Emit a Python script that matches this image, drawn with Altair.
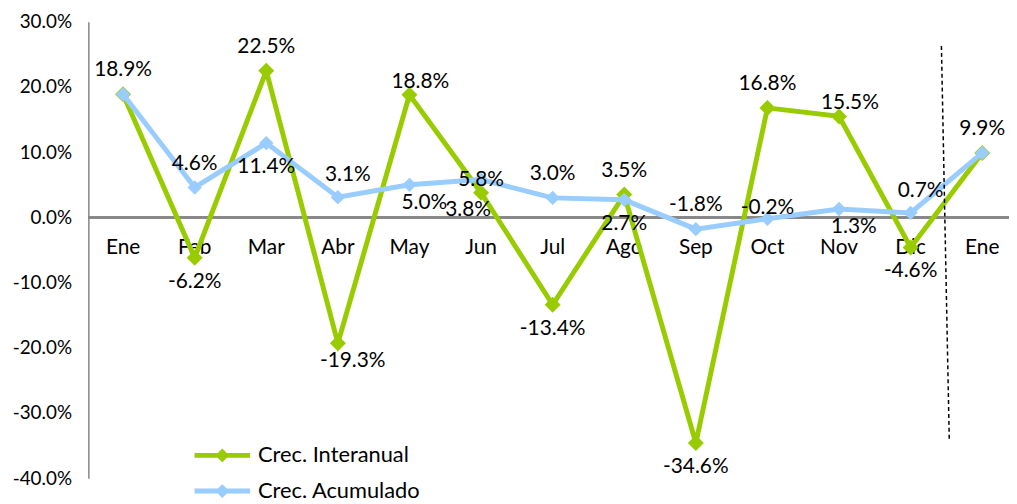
import altair as alt
import pandas as pd

# ---------------- data ----------------
months = ["Ene", "Feb", "Mar", "Abr", "May", "Jun", "Jul", "Ago", "Sep", "Oct", "Nov", "Dic", "Ene"]
interanual = [18.9, -6.2, 22.5, -19.3, 18.8, 3.8, -13.4, 3.5, -34.6, 16.8, 15.5, -4.6, 9.9]
acumulado = [18.9, 4.6, 11.4, 3.1, 5.0, 5.8, 3.0, 2.7, -1.8, -0.2, 1.3, 0.7, 9.9]
series_names = ["Crec. Interanual", "Crec. Acumulado"]
y_ticks = [-40, -30, -20, -10, 0, 10, 20, 30]

# label placement keywords (style)
pos_interanual = ["t", "b", "t", "br", "r", "bl", "b", "t", "b", "t", "r", "b", "t"]
pos_acumulado = ["", "t", "b", "tr", "br", "c", "t", "b", "t", "tn", "br", "tr", ""]

# year separator (dashed line), in data units
sep_x = [11.43, 11.54]
sep_y = [26.3, -34.3]

# ---------------- style ----------------
GREEN = "#99CC00"
BLUE = "#99CCFF"
FONT = "Lato"
PLACE = {"t": (0, -24), "b": (0, 24), "tr": (10, -22), "r": (11, -13),
         "br": (15, 18), "bl": (-13, 18), "c": (0, 0), "tn": (0, -11)}

rows = []
for i, m in enumerate(months):
    rows.append({"idx": i, "month": m, "series": series_names[0],
                 "value": interanual[i] / 100, "label": f"{interanual[i]:.1f}%",
                 "pos": pos_interanual[i]})
for i, m in enumerate(months):
    rows.append({"idx": i, "month": m, "series": series_names[1],
                 "value": acumulado[i] / 100, "label": f"{acumulado[i]:.1f}%",
                 "pos": pos_acumulado[i]})
df = pd.DataFrame(rows)
months_df = pd.DataFrame({"idx": list(range(len(months))), "month": months, "value": [0.0] * len(months)})
sep_df = pd.DataFrame({"x": [sep_x[0]], "x2": [sep_x[1]], "y": [sep_y[0] / 100], "y2": [sep_y[1] / 100]})

xscale = alt.Scale(domain=[-0.485, 12.374], nice=False, zero=False)
yscale = alt.Scale(domain=[-0.4, 0.3], nice=False, zero=False)
yaxis = alt.Axis(values=[t / 100 for t in y_ticks], format=".1%", ticks=False, grid=False,
                 domainColor="#868686", domainWidth=1.5, labelFont=FONT, labelFontSize=19,
                 labelColor="#000000", labelPadding=17,
                 labelExpr="replace(datum.label, '\u2212', '-')")

X = alt.X("idx:Q", scale=xscale, axis=None)
Y = alt.Y("value:Q", scale=yscale, title=None, axis=yaxis)

legend = alt.Legend(title=None, orient="none", legendX=124, legendY=426, padding=0,
                    symbolType="M-4,0L4,0M-0.5,0L0,-0.5L0.5,0L0,0.5Z", symbolSize=196,
                    symbolStrokeWidth=5, labelOffset=25, labelFont=FONT, labelFontSize=22,
                    labelColor="#000000", labelLimit=400, rowPadding=8, symbolOpacity=1)
color = alt.Color("series:N", scale=alt.Scale(domain=series_names, range=[GREEN, BLUE]), legend=legend)

zero_rule = alt.Chart(months_df).mark_rule(color="#868686", strokeWidth=1.5).encode(y=Y)

month_text = alt.Chart(months_df).mark_text(font=FONT, fontSize=21, color="#000000", dy=31,
                                            baseline="middle", align="center").encode(
    x=X, y=Y, text="month:N")

layers = [zero_rule, month_text]
for name, size in zip(series_names, [260, 210]):
    sub = alt.Chart(df).transform_filter(alt.datum.series == name)
    layers.append(sub.mark_line(strokeWidth=5).encode(x=X, y=Y, color=color))
    layers.append(sub.mark_point(shape="diamond", filled=True, size=size, opacity=1).encode(
        x=X, y=Y, color=color))

for key, (dx, dy) in PLACE.items():
    layers.append(
        alt.Chart(df).transform_filter(alt.datum.pos == key).mark_text(
            font=FONT, fontSize=21, color="#000000", dx=dx, dy=dy, baseline="middle", align="center"
        ).encode(x=X, y=Y, text="label:N")
    )

sep = alt.Chart(sep_df).mark_rule(color="#000000", strokeWidth=1.5, strokeDash=[4, 3]).encode(
    x=alt.X("x:Q", scale=xscale, axis=None), x2="x2:Q",
    y=alt.Y("y:Q", scale=yscale, title=None, axis=yaxis), y2="y2:Q")
layers.append(sep)

chart = alt.layer(*layers).resolve_scale(color="shared").properties(
    width=928, height=460,
    autosize=alt.AutoSizeParams(type="none"),
    padding={"left": 81, "top": 12, "right": 0, "bottom": 20},
).configure(font=FONT).configure_view(stroke=None)

chart.save("out.html", embed_options={"renderer": "svg", "actions": False})
